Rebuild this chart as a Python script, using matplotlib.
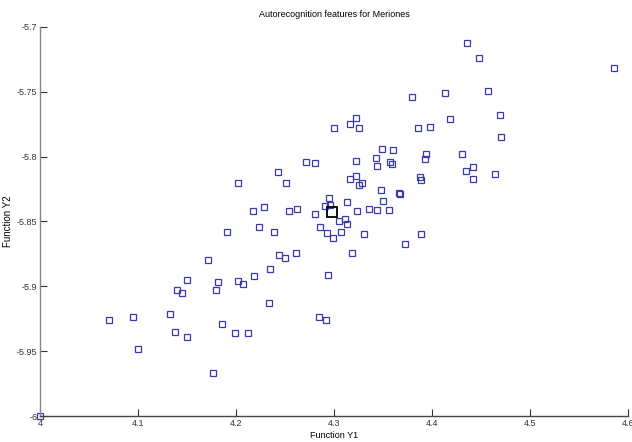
import numpy as np
import matplotlib
matplotlib.use('Agg')
import matplotlib.pyplot as plt

plt.rcParams['font.family'] = ['Liberation Sans Narrow', 'Liberation Sans', 'DejaVu Sans']

# discriminant scores, one square per sample
func_y1 = [4.436, 4.448, 4.586, 4.380, 4.413, 4.457, 4.469, 4.418, 4.322, 4.316,
           4.300, 4.325, 4.386, 4.398, 4.470, 4.349, 4.360, 4.343, 4.344, 4.322,
           4.357, 4.359, 4.394, 4.393, 4.431, 4.435, 4.442, 4.442, 4.464, 4.271,
           4.281, 4.243, 4.202, 4.251, 4.316, 4.322, 4.325, 4.329, 4.388, 4.389,
           4.348, 4.366, 4.367, 4.350, 4.295, 4.313, 4.291, 4.296, 4.336, 4.344,
           4.356, 4.323, 4.229, 4.217, 4.254, 4.262, 4.281, 4.305, 4.311, 4.313,
           4.223, 4.286, 4.191, 4.239, 4.293, 4.299, 4.307, 4.331, 4.389, 4.372,
           4.318, 4.261, 4.244, 4.250, 4.171, 4.235, 4.218, 4.294, 4.150, 4.182,
           4.202, 4.207, 4.140, 4.145, 4.180, 4.234, 4.070, 4.095, 4.133, 4.285,
           4.292, 4.186, 4.138, 4.150, 4.199, 4.212, 4.100, 4.177, 4.000]
func_y2 = [-5.712, -5.724, -5.732, -5.754, -5.751, -5.749, -5.768, -5.771, -5.770, -5.775,
           -5.778, -5.778, -5.778, -5.777, -5.785, -5.794, -5.795, -5.801, -5.807, -5.803,
           -5.804, -5.806, -5.798, -5.802, -5.798, -5.811, -5.808, -5.817, -5.813, -5.804,
           -5.805, -5.812, -5.820, -5.820, -5.817, -5.815, -5.822, -5.820, -5.816, -5.818,
           -5.826, -5.828, -5.829, -5.834, -5.832, -5.835, -5.838, -5.837, -5.840, -5.841,
           -5.841, -5.842, -5.839, -5.842, -5.842, -5.840, -5.844, -5.850, -5.848, -5.852,
           -5.854, -5.854, -5.858, -5.858, -5.859, -5.863, -5.858, -5.860, -5.860, -5.867,
           -5.874, -5.874, -5.876, -5.878, -5.880, -5.887, -5.892, -5.891, -5.895, -5.897,
           -5.896, -5.898, -5.903, -5.905, -5.903, -5.913, -5.926, -5.924, -5.921, -5.924,
           -5.926, -5.929, -5.935, -5.939, -5.936, -5.936, -5.948, -5.967, -6.000]

# group centroid (black square)
centroid_y1 = [4.298]
centroid_y2 = [-5.843]

fig = plt.figure(figsize=(6.32, 4.42), dpi=100)
ax = fig.add_axes([40/632, 26/442, 588/632, 389/442])

ax.plot(func_y1, func_y2, linestyle='none', marker='s', markersize=4.2,
        markerfacecolor='none', markeredgecolor='#3a3ab0', markeredgewidth=0.9, clip_on=False)
ax.plot(centroid_y1, centroid_y2, linestyle='none', marker='s', markersize=7,
        markerfacecolor='none', markeredgecolor='#111111', markeredgewidth=1.4, clip_on=False)

ax.set_xlim(4, 4.6)
ax.set_ylim(-6, -5.7)
ax.set_xticks([4, 4.1, 4.2, 4.3, 4.4, 4.5, 4.6])
ax.set_xticklabels(['4', '4.1', '4.2', '4.3', '4.4', '4.5', '4.6'])
ax.set_yticks([-6, -5.95, -5.9, -5.85, -5.8, -5.75, -5.7])
ax.set_yticklabels(['-6', '-5.95', '-5.9', '-5.85', '-5.8', '-5.75', '-5.7'])

for side in ('top', 'right'):
    ax.spines[side].set_visible(False)
ax.spines['left'].set_color('#888888')
ax.spines['bottom'].set_color('#444444')
ax.spines['left'].set_linewidth(1.0)
ax.spines['bottom'].set_linewidth(1.0)
ax.tick_params(direction='in', length=5, width=0.8, colors='#333333', labelsize=6.5, pad=2)

ax.set_title('Autorecognition features for Meriones', fontsize=6.5, pad=7)
ax.set_xlabel('Function Y1', fontsize=6.5, labelpad=2)
ax.set_ylabel('Function Y2', fontsize=7, family=['Liberation Sans', 'DejaVu Sans'])
ax.yaxis.set_label_coords(-0.046, 0.5)

fig.savefig('out.png', dpi=100)
